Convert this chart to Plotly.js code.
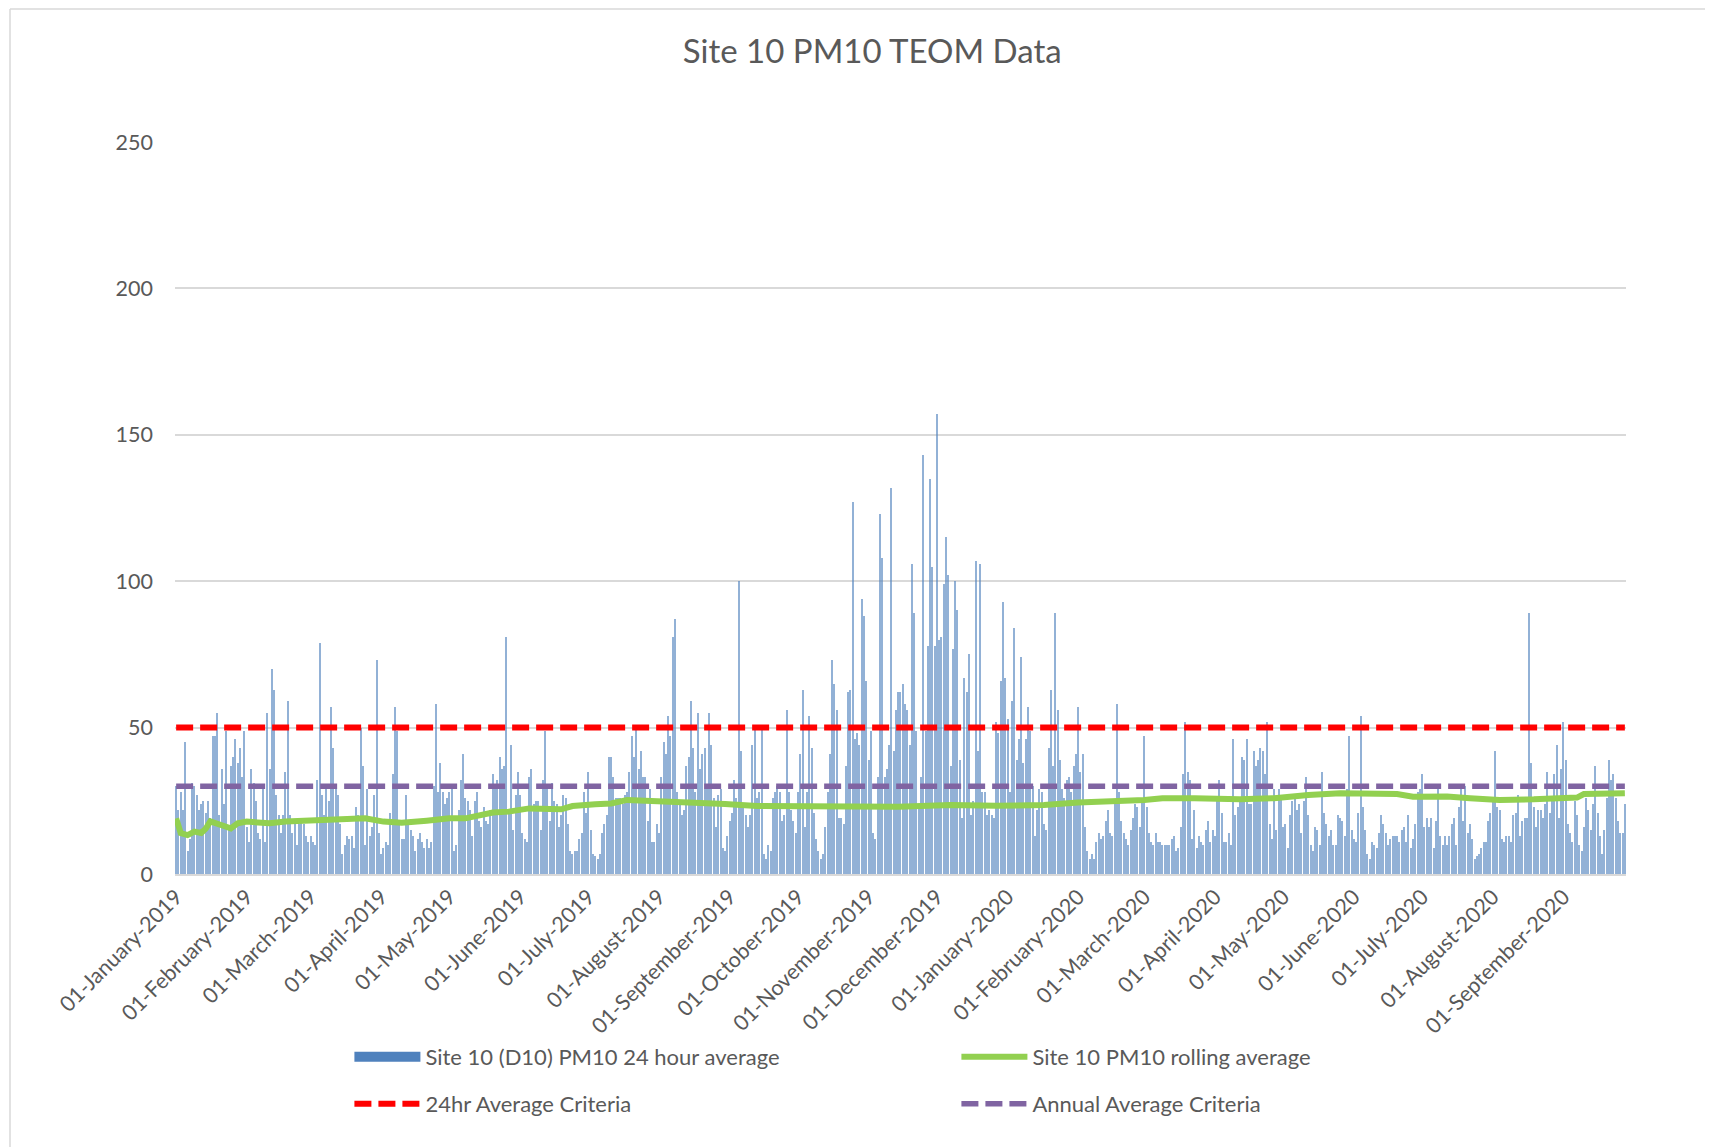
<!DOCTYPE html>
<html><head><meta charset="utf-8">
<script src="https://cdn.plot.ly/plotly-3.0.1.min.js"></script>
<style>html,body{margin:0;padding:0;background:#fff}#chart{width:1717px;height:1147px}</style>
</head><body><div id="chart"></div>
<script>
// ---- data ----
const startDate = '2019-01-01';
// daily PM10 24-hour averages, 01-Jan-2019 .. 31-Dec-2019
const pm10_2019 = [
30,22,28,22,45,8,12,31,30,27,22,24,25,21,25,19,47,47,55,20,36,24,49,16,37,40,46,38,43,33,49,
16,11,36,31,25,14,12,29,11,55,36,70,63,27,20,14,20,35,59,20,14,18,10,17,18,17,13,11,13,11,10,
32,79,27,20,29,25,57,43,29,27,17,7,10,13,12,13,9,23,20,50,37,10,29,13,16,27,73,14,7,9,11,10,21,34,57,49,17,12,12,27,17,15,13,8,12,14,11,9,12,9,11,30,58,28,38,28,24,26,28,30,8,10,22,32,
41,26,25,22,13,25,28,18,16,23,18,17,22,34,29,32,40,36,37,81,22,44,15,27,35,27,14,12,11,33,36,24,25,25,15,32,49,29,18,31,25,24,16,20,27,26,17,8,7,8,8,12,14,28,21,35,15,7,6,5,7,14,17,20,
40,40,33,26,26,26,24,27,28,35,47,40,51,36,42,33,33,18,29,11,11,17,14,33,45,41,54,47,81,87,28,24,20,22,37,40,59,43,28,55,36,41,43,29,55,44,26,16,27,29,9,8,13,18,21,32,26,100,42,23,20,16,20,44,
50,26,28,51,7,5,10,8,26,28,30,28,18,20,56,28,22,18,14,28,41,63,16,28,54,43,21,12,8,5,7,16,28,41,73,65,56,19,19,17,37,62,63,127,46,48,44,94,88,66,39,49,14,12,33,123,108,33,36,44,132,42,56,62,
62,65,58,56,44,106,89,49,24,33,143,49,78,135,105,78,157,80,81,99,115,102,37,77,100,90,39,19,67,62,75,20,25,107,42,106,28,28,20,22,20,19,52,48,66,93,67
];
// daily PM10 24-hour averages, 01-Jan-2020 .. 28-Sep-2020
const pm10_2020 = [
53,28,59,84,39,46,74,38,46,57,49,30,13,22,29,28,17,
15,43,63,37,89,56,39,29,26,32,33,28,37,41,57,35,41,16,8,5,7,5,11,14,12,13,18,22,14,13,24,58,28,18,14,12,10,15,19,24,23,16,26,47,23,14,11,10,14,11,11,10,10,10,10,12,13,8,9,16,34,52,35,32,
12,22,9,13,11,10,15,18,11,15,13,25,32,21,11,11,14,10,46,20,23,25,40,39,46,24,24,42,37,39,43,42,34,52,17,12,29,15,29,27,16,17,9,20,25,26,22,24,14,25,33,20,10,8,16,15,10,35,21,17,13,15,10,10,
20,19,18,13,29,47,15,12,11,21,54,23,15,7,5,11,10,9,14,20,17,14,10,12,13,13,13,11,15,16,11,20,9,12,17,28,29,34,16,19,16,19,9,18,30,13,10,13,10,13,17,19,10,23,30,18,30,14,17,12,5,6,7,9,
11,11,18,21,25,42,23,22,12,11,13,13,11,20,21,27,13,18,19,19,89,38,23,16,22,22,19,24,35,21,26,34,44,19,36,52,39,17,14,11,25,20,10,8,16,26,22,15,24,37,21,13,7,15,26,39,32,34,26,18,14,14,24
];
// rolling average read at selected days (day index from startDate)
const rollDay = [0,2,5,8,11,13,15,17,21,24,27,31,35,41,48,56,62,76,83,91,99,110,120,127,131,139,146,155,169,174,184,191,198,211,226,241,255,280,317,340,360,381,396,425,433,447,467,482,490,497,511,524,536,543,554,558,568,575,581,596,615,618,629,636];
const rollVal = [19,14,13.3,14.5,14,15.5,18,17.3,16.4,15.6,17.3,17.9,17.5,17.3,17.9,18.1,18.4,18.7,19,17.9,17.5,18.2,19,19,19.6,21,21.3,22.4,22.1,23.2,23.8,24.1,25.3,25,24.4,23.9,23.2,23,23,23.6,23.3,23.6,24.4,25.3,25.9,25.9,25.5,25.9,26.7,27,27.6,27.6,27.3,26.4,26.7,26.5,25.9,25.5,25.3,25.5,26.1,27.3,27.6,27.6];
const criteria24hr = 50;
const criteriaAnnual = 30;
const tickDates = ['2019-01-01','2019-02-01','2019-03-01','2019-04-01','2019-05-01','2019-06-01','2019-07-01','2019-08-01','2019-09-01','2019-10-01','2019-11-01','2019-12-01','2020-01-01','2020-02-01','2020-03-01','2020-04-01','2020-05-01','2020-06-01','2020-07-01','2020-08-01','2020-09-01'];
const tickLabels = ['01-January-2019','01-February-2019','01-March-2019','01-April-2019','01-May-2019','01-June-2019','01-July-2019','01-August-2019','01-September-2019','01-October-2019','01-November-2019','01-December-2019','01-January-2020','01-February-2020','01-March-2020','01-April-2020','01-May-2020','01-June-2020','01-July-2020','01-August-2020','01-September-2020'];

// ---- build ----
const DAY = 86400000;
const t0 = Date.parse(startDate + 'T00:00:00Z');
const dayToDate = i => new Date(t0 + i * DAY).toISOString().slice(0, 10);
const values = pm10_2019.concat(pm10_2020);
const dates = values.map((v, i) => dayToDate(i));
const rollDates = rollDay.map(dayToDate);
const first = dates[0], last = dates[dates.length - 1];
const xStart = new Date(t0 - DAY / 2).toISOString();
const xEnd = new Date(t0 + (values.length - 0.5) * DAY).toISOString();

const FONT = 'Lato, "Open Sans", sans-serif';
const TXT = '#595959';
const BLUE = '#4f81bd';

const traces = [
  {type: 'bar', x: dates, y: values, width: DAY * 0.45, marker: {color: BLUE, opacity: 0.62, line: {width: 0}},
   name: 'Site 10 (D10) PM10 24 hour average', showlegend: false, hoverinfo: 'x+y'},
  {type: 'scatter', mode: 'lines', x: [first], y: [null], name: 'Site 10 (D10) PM10 24 hour average',
   line: {color: BLUE, width: 14}, legend: 'legend', hoverinfo: 'skip'},
  {type: 'scatter', mode: 'lines', x: rollDates, y: rollVal, name: 'Site 10 PM10 rolling average',
   line: {color: '#92d050', width: 6}, legend: 'legend'},
  {type: 'scatter', mode: 'lines', x: [first, last], y: [criteria24hr, criteria24hr], name: '24hr Average Criteria',
   line: {color: '#ff0000', width: 6, dash: '17px,7px'}, legend: 'legend2'},
  {type: 'scatter', mode: 'lines', x: [first, last], y: [criteriaAnnual, criteriaAnnual], name: 'Annual Average Criteria',
   line: {color: '#8064a2', width: 5.5, dash: '17px,7px'}, legend: 'legend2'}
];

const px = v => (v - 175) / 1451;
const py = v => (874 - v) / 732;

const legendCommon = {orientation: 'h', xref: 'container', yref: 'container', xanchor: 'left', yanchor: 'middle',
  entrywidth: 526, entrywidthmode: 'pixels', itemwidth: 66, font: {family: FONT, size: 22, color: TXT},
  bgcolor: 'rgba(0,0,0,0)', traceorder: 'normal'};

const layout = {
  width: 1717, height: 1147,
  margin: {l: 175, r: 91, t: 142, b: 273},
  paper_bgcolor: '#ffffff', plot_bgcolor: '#ffffff',
  font: {family: FONT, color: TXT},
  title: {text: 'Site 10 PM10 TEOM Data', font: {family: FONT, size: 33, color: TXT},
          x: 0.508, xref: 'container', xanchor: 'center', y: 0.955, yref: 'container', yanchor: 'middle'},
  bargap: 0,
  xaxis: {type: 'date', range: [xStart, xEnd], tickvals: tickDates, ticktext: tickLabels, tickangle: -45,
          showgrid: false, showline: true, linecolor: '#d9d9d9', linewidth: 1.5, ticks: '', zeroline: false,
          tickfont: {family: FONT, size: 21.5, color: TXT}},
  yaxis: {range: [0, 250], dtick: 50, tick0: 0, showgrid: true, gridcolor: '#d9d9d9', gridwidth: 1.5,
          zeroline: false, showline: false, ticks: '', ticklabelstandoff: 21,
          tickfont: {family: FONT, size: 21.5, color: TXT}},
  legend: Object.assign({}, legendCommon, {x: 0.2035, y: 0.0785}),
  legend2: Object.assign({}, legendCommon, {x: 0.2035, y: 0.0375}),
  shapes: [
    {type: 'line', xref: 'paper', yref: 'paper', x0: px(10), x1: px(10), y0: py(9), y1: py(1147), line: {color: '#d9d9d9', width: 1.5}},
    {type: 'line', xref: 'paper', yref: 'paper', x0: px(10), x1: px(1705), y0: py(9), y1: py(9), line: {color: '#d9d9d9', width: 1.5}}
  ],
  showlegend: true
};

Plotly.newPlot('chart', traces, layout, {displayModeBar: false, responsive: false});
</script></body></html>
